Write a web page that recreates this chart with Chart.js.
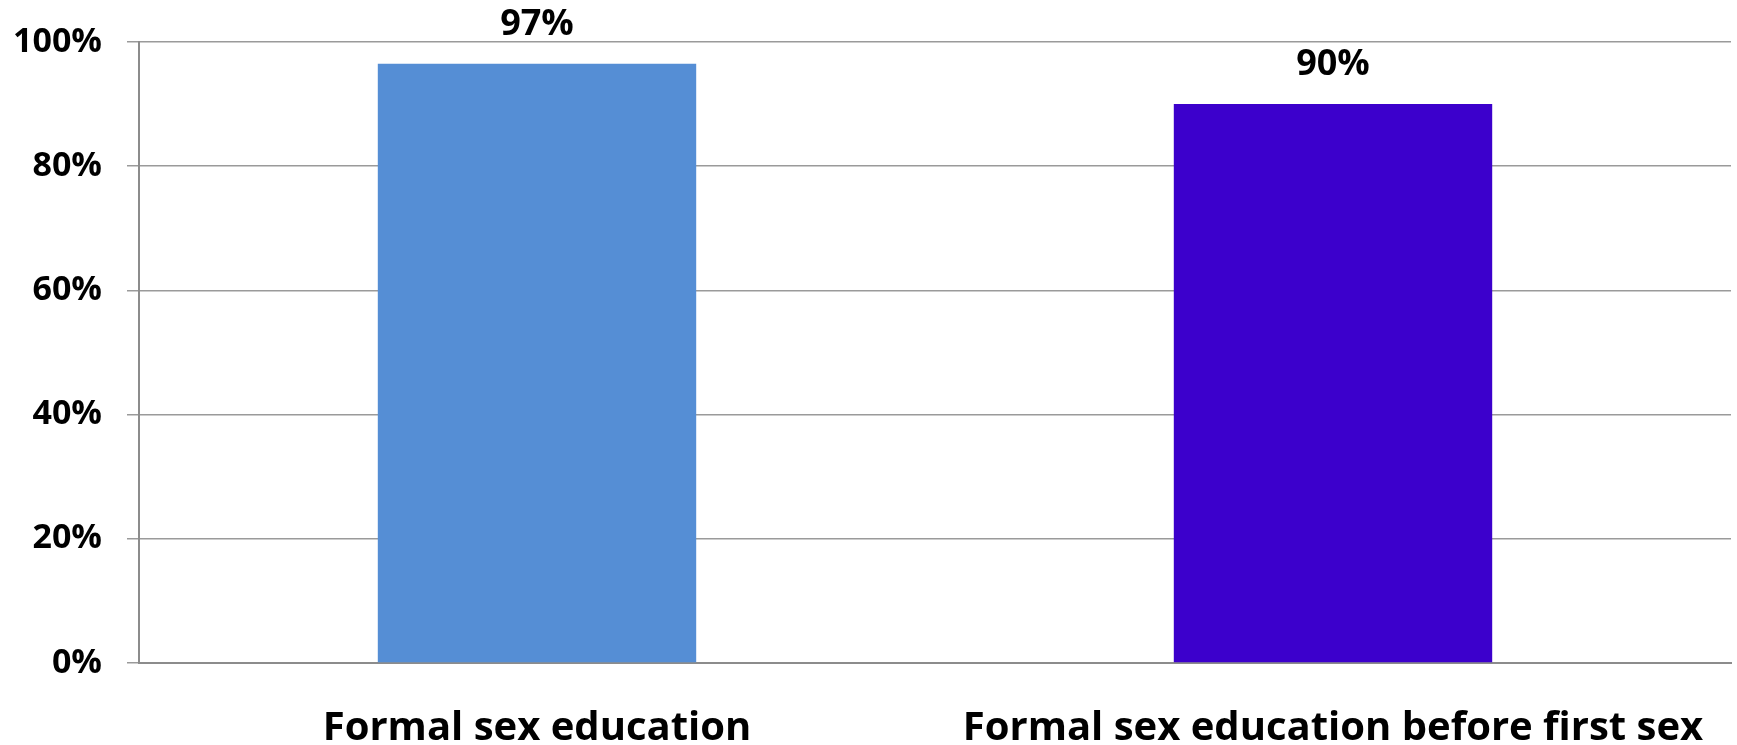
<!DOCTYPE html>
<html>
<head>
<meta charset="utf-8">
<script src="https://cdn.jsdelivr.net/npm/chart.js@4"></script>
<style>
  html, body { margin: 0; padding: 0; background: #fff; }
  #wrap { width: 1737px; height: 745px; }
</style>
</head>
<body>
<div id="wrap"><canvas id="chart"></canvas></div>
<script>
const categories = ['Formal sex education', 'Formal sex education before first sex'];
const values = [96.5, 90];
const valueLabels = ['97%', '90%'];
const yTicks = [0, 20, 40, 60, 80, 100];

const fontFamily = '"Open Sans", Arial, sans-serif';

// draws the value text above each bar
const barLabels = {
    id: 'barLabels',
    afterDatasetsDraw(chart) {
        const ctx = chart.ctx;
        const meta = chart.getDatasetMeta(0);
        ctx.save();
        ctx.font = 'bold 36px ' + fontFamily;
        ctx.fillStyle = '#000';
        ctx.textAlign = 'center';
        ctx.textBaseline = 'middle';
        meta.data.forEach((bar, i) => {
            ctx.fillText(valueLabels[i], bar.x, bar.y - 39);
        });
        ctx.restore();
    }
};

const ctx = document.getElementById('chart').getContext('2d');
new Chart(ctx, {
    type: 'bar',
    data: {
        labels: categories,
        datasets: [{
            data: values,
            backgroundColor: ['#558ED5', '#3C00CC'],
            categoryPercentage: 1,
            barPercentage: 0.4
        }]
    },
    options: {
        responsive: true,
        maintainAspectRatio: false,
        animation: false,
        layout: { padding: { top: 23, right: 6, left: 0, bottom: 0 } },
        plugins: {
            legend: { display: false },
            tooltip: { enabled: false }
        },
        scales: {
            x: {
                // invisible ticks push the labels down without adding side padding
                grid: { drawOnChartArea: false, tickColor: 'rgba(0,0,0,0)', tickLength: 40 },
                border: { color: '#8c8c8c', width: 2 },
                ticks: {
                    color: '#000',
                    font: { family: fontFamily, size: 40, weight: 'bold' },
                    padding: 2,
                    maxRotation: 0
                },
                afterFit(scale) { scale.height = 82; }
            },
            y: {
                min: 0,
                max: 100,
                afterBuildTicks(scale) { scale.ticks = yTicks.map(v => ({ value: v })); },
                grid: { color: '#9a9a9a', lineWidth: 1.5, tickLength: 12 },
                border: { color: '#8c8c8c', width: 2 },
                ticks: {
                    color: '#000',
                    font: { family: fontFamily, size: 34, weight: 'bold', lineHeight: 1 },
                    padding: 25,
                    callback: v => v + '%'
                },
                afterFit(scale) { scale.width = 139; }
            }
        }
    },
    plugins: [barLabels]
});
</script>
</body>
</html>
